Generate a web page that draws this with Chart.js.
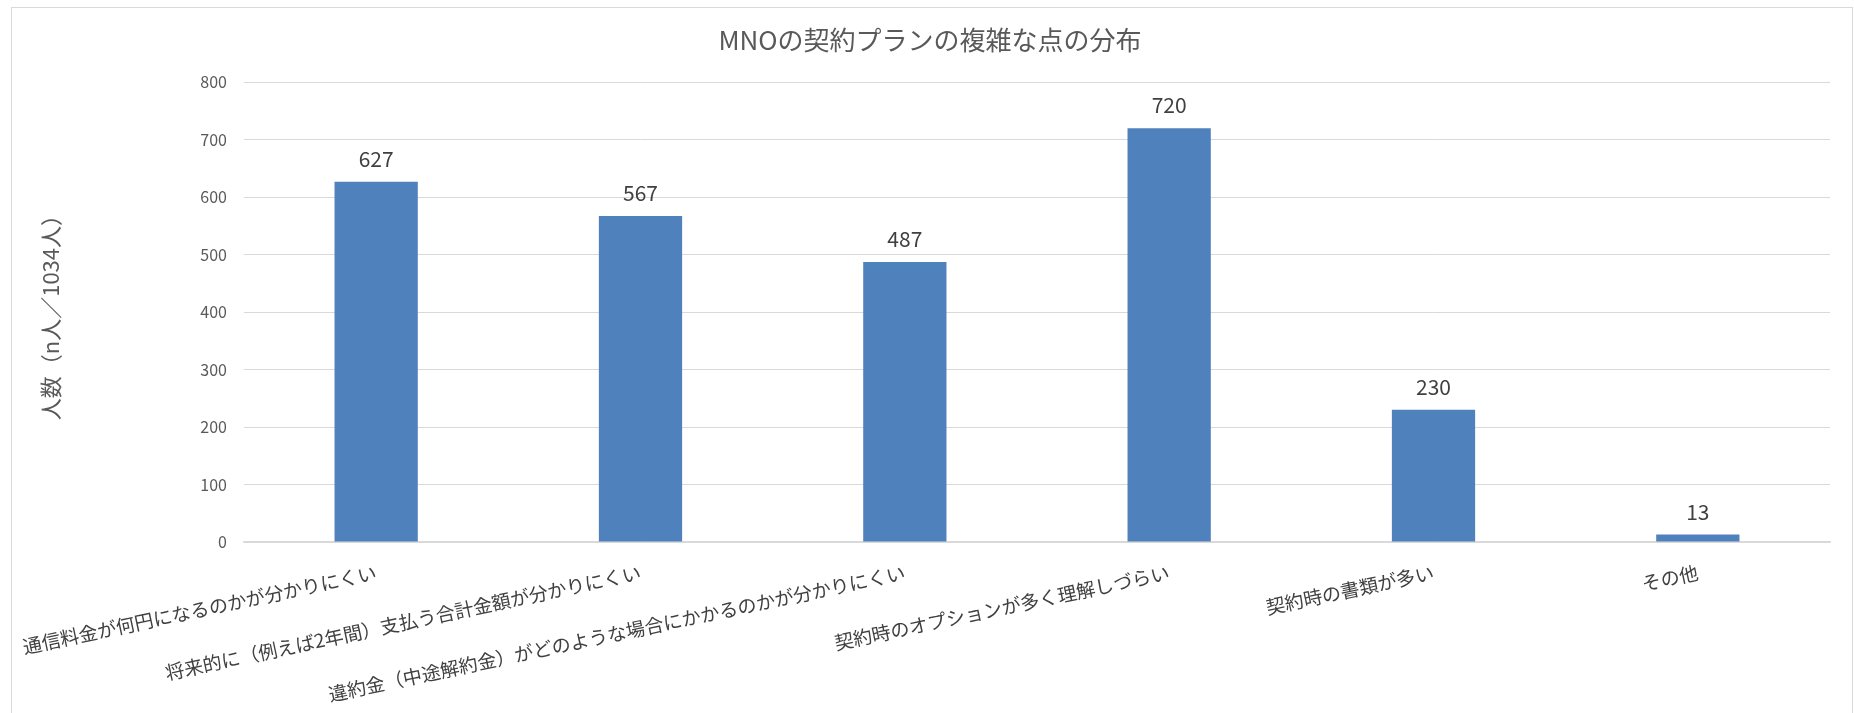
<!DOCTYPE html>
<html><head><meta charset="utf-8">
<script src="https://cdn.jsdelivr.net/npm/chart.js@4.4.1/dist/chart.umd.min.js"></script>
<style>
html,body{margin:0;padding:0;background:#fff;overflow:hidden;}
#frame{position:absolute;left:11px;top:7px;width:1842px;height:760px;border:1px solid #d9d9d9;box-sizing:border-box;}
#wrap{position:absolute;left:0;top:0;width:1854px;height:713px;}
</style></head><body>
<div id="frame"></div>
<div id="wrap"><canvas id="c" width="1854" height="713"></canvas></div>
<script>
const chartTitle = 'MNOの契約プランの複雑な点の分布';
const yAxisTitle = '人数（n人／1034人）';
const categories = [
  '通信料金が何円になるのかが分かりにくい',
  '将来的に（例えば2年間）支払う合計金額が分かりにくい',
  '違約金（中途解約金）がどのような場合にかかるのかが分かりにくい',
  '契約時のオプションが多く理解しづらい',
  '契約時の書類が多い',
  'その他'
];
const counts = [627, 567, 487, 720, 230, 13];
const yMin = 0, yMax = 800, yStep = 100;

const JP = '"Noto Sans CJK JP", "Noto Sans", sans-serif';

const valueLabels = {
  id: 'valueLabels',
  afterDatasetsDraw(chart) {
    const ctx = chart.ctx;
    const meta = chart.getDatasetMeta(0);
    const data = chart.data.datasets[0].data;
    ctx.save();
    ctx.font = '21px ' + JP;
    ctx.fillStyle = '#404040';
    ctx.textAlign = 'center';
    ctx.textBaseline = 'middle';
    meta.data.forEach((bar, i) => {
      ctx.fillText(String(data[i]), bar.x, bar.y - 23);
    });
    ctx.restore();
  }
};

new Chart(document.getElementById('c'), {
  type: 'bar',
  data: {
    labels: categories,
    datasets: [{
      data: counts,
      backgroundColor: '#4F81BD',
      borderWidth: 0,
      categoryPercentage: 1.0,
      barPercentage: 0.315
    }]
  },
  options: {
    responsive: false,
    animation: false,
    devicePixelRatio: 1,
    layout: { padding: { left: 30, right: 24, top: 0, bottom: 0 } },
    plugins: {
      legend: { display: false },
      tooltip: { enabled: false },
      title: {
        display: true,
        text: chartTitle,
        color: '#595959',
        font: { family: JP, size: 26, weight: 'normal' },
        padding: { top: 25, bottom: 26 }
      }
    },
    scales: {
      x: {
        grid: { display: false, drawTicks: false },
        border: { display: true, color: '#d9d9d9', width: 1.5 },
        ticks: {
          autoSkip: false,
          minRotation: 12,
          maxRotation: 12,
          padding: 19,
          color: '#404040',
          font: { family: JP, size: 19 }
        },
        afterFit(scale) {
          scale.height = 713 - 542;
          scale.paddingLeft = 0;
          scale.paddingRight = 0;
        }
      },
      y: {
        min: yMin,
        max: yMax,
        grid: { color: '#d9d9d9', lineWidth: 1, drawTicks: false },
        border: { display: false },
        ticks: {
          stepSize: yStep,
          padding: 17,
          color: '#595959',
          font: { family: JP, size: 16 }
        },
        title: {
          display: true,
          text: yAxisTitle,
          color: '#595959',
          font: { family: JP, size: 22, weight: 'normal' },
          padding: { top: 7, bottom: 0 }
        },
        afterFit(scale) {
          scale.width = 244 - 30;
        }
      }
    }
  },
  plugins: [valueLabels]
});
</script>
</body></html>
